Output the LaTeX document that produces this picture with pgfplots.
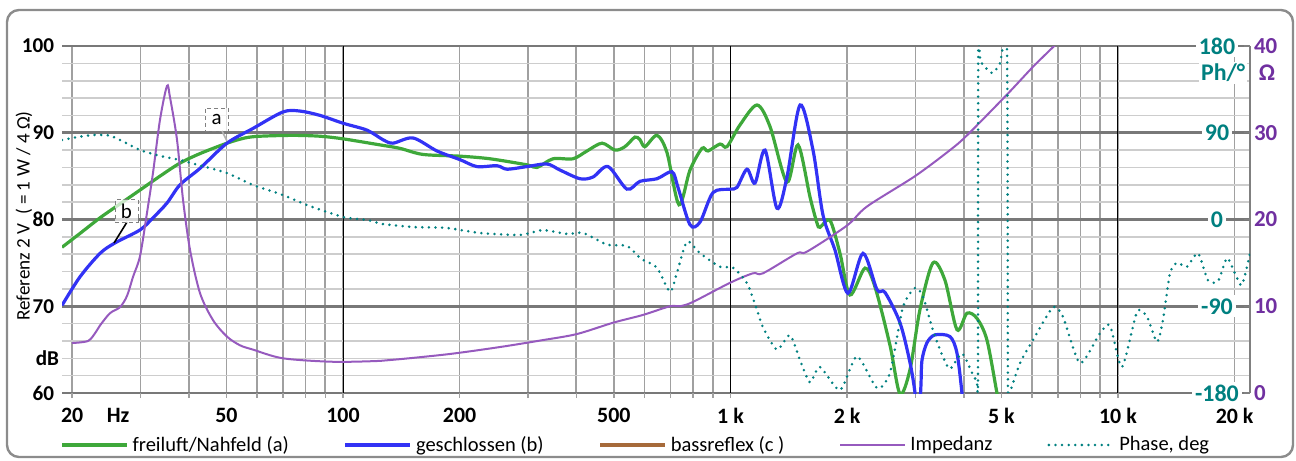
\documentclass[border=0pt]{standalone}
\usepackage{fontspec}
\setmainfont{Carlito}
\usepackage{pgfplots}
\usepackage{pgfplotstable}
\pgfplotsset{compat=1.18}

\definecolor{cgreen}{RGB}{62,168,58}
\definecolor{cblue}{RGB}{50,50,245}
\definecolor{cbrown}{RGB}{166,106,58}
\definecolor{cpurple}{RGB}{150,90,190}
\definecolor{cteal}{RGB}{0,128,128}
\definecolor{zlabel}{RGB}{112,48,160}
\definecolor{gridv}{RGB}{160,160,160}
\definecolor{gridmaj}{RGB}{120,120,120}
\definecolor{gridmin}{RGB}{205,205,205}
\definecolor{framegray}{RGB}{140,140,140}

% freiluft / Nahfeld (a)
\pgfplotstableread{
f db
18.83 76.8
20.96 78.4
23.61 80.2
26.58 81.8
29.94 83.4
33.71 85.0
37.96 86.5
42.76 87.6
50.19 88.8
55.86 89.4
61.07 89.6
74.30 89.7
87.23 89.6
100 89.3
124.6 88.6
140.3 88.2
160.9 87.5
200.4 87.3
239.5 87.0
298.5 86.3
316.7 86.0
348.3 87.0
392.3 87.0
426.3 87.9
466.1 88.8
503.6 88.0
534.2 88.4
566.9 89.5
584.0 89.2
601.7 88.4
646.2 89.7
685.8 87.7
736.5 81.7
786.2 85.7
844.2 88.2
874.9 87.9
939.6 88.7
979.4 88.4
1058 90.9
1171 93.2
1265 90.7
1399 84.3
1494 88.6
1604 82.6
1672 79.6
1702 79.1
1806 79.9
1917 76.1
2034 71.3
2224 74.4
2361 72.2
2580 65.5
2738 59.9
2906 62.7
3083 69.6
3331 75.0
3577 73.0
3842 67.3
4077 69.2
4327 68.6
4591 66.1
4872 60.0
5019 57
}\freiluft

% geschlossen (b)
\pgfplotstableread{
f db
18.83 70.1
20.96 73.4
23.61 76.1
25.80 77.3
29.94 78.8
32.34 80.2
35.14 81.9
37.96 84.0
42.76 85.9
50.19 88.8
58.59 90.5
70.0 92.4
77.46 92.5
87.23 92.0
100 91.1
115.33 90.3
126.8 89.2
134.6 88.8
151.6 89.4
174.8 87.9
200.4 86.9
221.7 86.1
249.7 86.2
265.0 85.8
298.5 86.1
336.1 86.4
363.1 85.7
408.9 84.7
441.8 84.9
483.0 86.1
540.6 83.5
584.0 84.4
646.2 84.7
706.5 85.5
732.1 83.7
786.2 79.4
834.3 79.7
901.3 83.1
997.0 83.5
1039 83.7
1103 85.8
1157 84.2
1228 88.0
1318 81.3
1399 84.9
1512 93.2
1633 88.0
1733 80.5
1860 76.5
2010 71.5
2198 76.1
2389 71.9
2504 71.6
2738 68.1
2906 63.5
2994 60
3029 57
3083 59
3102 61
3121 63.8
3215 65.8
3371 66.7
3686 66.5
3842 64.6
3958 60
4029 56
}\geschlossen

% Impedanz (Ohm)
\pgfplotstableread{
f z
19.98 5.76
21.98 6.0
23.0 7.0
23.61 7.8
25.04 9.2
26.58 9.9
27.71 11.2
28.72 13.4
29.94 15.8
31.21 20.8
32.34 25.4
33.71 31.5
35.14 35.4
35.77 34.1
37.29 29.2
38.65 22.3
40.29 16.5
42.76 11.5
46.19 8.4
50.19 6.5
54.22 5.5
58.59 5.0
70.0 4.0
94.23 3.6
124.6 3.7
140.3 3.9
188.9 4.5
254.2 5.3
328.2 6.1
401.7 6.8
497.6 8.1
594.6 9.0
698.1 10.0
740.9 10.0
800.3 10.5
997.0 12.7
1143 13.8
1213 13.8
1485 16.1
1576 16.3
1998 19.3
2251 21.5
2994 25.0
3686 28.0
4077 29.7
5170 34.4
6035 37.6
6879 40.1
7000 40.5
}\impedanz

% Phase (deg)
\pgfplotstableread{
f ph
18.83 82.5
20.96 86
22.91 87.7
25.04 87
27.38 80
29.94 72
33.71 66
37.96 61.7
42.76 56
50.19 48.2
58.59 35.8
70.0 25.4
80.74 15
100 2.6
115.33 -0.5
126.8 -4.7
151.6 -7.8
185.5 -8.8
225.7 -14
286.3 -16
328.2 -11
378.5 -15
416.3 -14
480.1 -26
540.6 -27.5
584.0 -40
594.6 -42
646.2 -50
698.1 -75
727.8 -55
772.3 -23
834.3 -35
939.6 -49
1015 -50
1103 -66
1171 -94
1213 -112
1318 -135
1424 -120
1512 -146
1604 -169
1702 -153
1917 -177
2121 -142
2389 -175
2580 -159
2787 -91
2994 -71
3139 -80
3331 -115
3514 -140
3686 -155
3958 -139
4200 -159
4327 -169
4352 -178
4360 178
4420 164
4730 152
4960 162
5170 179
5201 -179
5263 -179
5586 -149
6035 -125
6797 -91
7213 -101
7979 -149
8985 -118
9536 -110
10240 -153
11196 -96
11883 -101
12610 -127
13067 -104
13620 -56
14200 -45
15070 -49
16088 -35
17073 -63
18118 -64
19112 -40
20040 -56
20893 -68
21916 -35
}\phase

\begin{document}
\begin{tikzpicture}
\begin{axis}[
  scale only axis, width=594bp, height=173.5bp,
  xmode=log, xmin=18.83, xmax=21916,
  ymin=60, ymax=100,
  clip mode=individual,
  axis line style={draw=none},
  ytick style={draw=none},
  xtick style={draw=gridv, line width=0.75bp},
  xtick pos=lower, tick align=outside,
  major tick length=2.5bp, minor tick length=2.5bp,
  xtick={20,50,100,200,500,1000,2000,5000,10000,20000},
  xticklabels={20,50,100,200,500,1 k,2 k,5 k,10 k,20 k},
  minor xtick={30,40,60,70,80,90,300,400,600,700,800,900,3000,4000,6000,7000,8000,9000},
  ytick={60,70,80,90,100},
  yticklabels={60,70,80,90,100},
  minor ytick={62,64,66,68,72,74,76,78,82,84,86,88,92,94,96,98},
  grid=both,
  major x grid style={color=gridv, line width=0.8bp},
  minor x grid style={color=gridv, line width=0.8bp},
  major y grid style={color=gridmaj, line width=1.3bp},
  minor y grid style={color=gridmin, line width=0.8bp},
  xticklabel style={font=\bfseries\fontsize{11}{12}\selectfont, yshift=-1.5bp},
  yticklabel style={font=\bfseries\fontsize{10.6}{12}\selectfont, xshift=2bp},
  legend columns=5,
  legend style={draw=none, fill=none, at={(-0.0067,-0.1499)}, anchor=west,
    font=\fontsize{10.3}{12}\selectfont,
    /tikz/every even column/.append style={column sep=25.5bp}},
  legend image code/.code={\draw[#1] (0bp,0bp) -- (32.5bp,0bp);},
]
\draw[black, line width=0.5bp] (axis cs:100,60) -- (axis cs:100,100);
\draw[black, line width=0.5bp] (axis cs:1000,60) -- (axis cs:1000,100);
\draw[black, line width=0.5bp] (axis cs:10000,60) -- (axis cs:10000,100);

\addplot[cgreen, line width=1.6bp, smooth, tension=0.5] table[x=f, y=db] {\freiluft};
\addlegendentry{freiluft/Nahfeld (a)}
\addplot[cblue, line width=1.6bp, smooth, tension=0.5] table[x=f, y=db] {\geschlossen};
\addlegendentry{geschlossen (b)}
\addlegendimage{cbrown, line width=1.6bp}
\addlegendentry{bassreflex (c )}
\addlegendimage{cpurple, line width=1bp}
\addlegendentry{Impedanz}
\addlegendimage{cteal, line width=1.4bp, line cap=round, dash pattern=on 0pt off 3.3bp}
\addlegendentry{Phase, deg}

\node[draw=gray, dash pattern=on 2bp off 1.5bp, fill=white, fill opacity=0.7, text opacity=1,
  minimum size=11.5bp, inner sep=0pt, font=\fontsize{10.5}{12}\selectfont]
  at (axis cs:47.17,91.53) {a};
\draw[gray!60, line width=0.8bp] (axis cs:48.73,90.2) -- (axis cs:50.19,89.05);
\draw[black, line width=0.8bp] (axis cs:27.71,79.71) -- (axis cs:25.65,77.29);
\node[draw=gray, dash pattern=on 2bp off 1.5bp, fill=white, fill opacity=0.7, text opacity=1,
  minimum size=11.5bp, inner sep=0pt, font=\fontsize{10.5}{12}\selectfont]
  at (axis cs:27.62,80.98) {b};

\node[anchor=east, xshift=2bp, inner sep=0.333em, font=\bfseries\fontsize{10.6}{12}\selectfont]
  at (axis cs:18.83,64) {dB};
\node[anchor=north, yshift=-1.5bp, yshift=-2.5bp, font=\bfseries\fontsize{11}{12}\selectfont]
  at (axis cs:26.27,60) {Hz};
\node[rotate=90, font=\fontsize{9.6}{11}\selectfont]
  at ([xshift=-19bp]rel axis cs:0,0.51) {Referenz 2 V\ \ ( = 1 W / 4 Ω)};
\end{axis}

\begin{axis}[
  scale only axis, width=594bp, height=173.5bp,
  xmode=log, xmin=18.83, xmax=21916,
  ymin=0, ymax=40,
  clip mode=individual,
  hide x axis,
  axis y line*=right,
  y axis line style={-, draw=gray, line width=0.6bp},
  ytick={0,10,20,30,40},
  yticklabels={0,10,20,30,40},
  ytick style={draw=gray, line width=0.6bp},
  major tick length=3bp, tick align=inside,
  yticklabel style={font=\bfseries\fontsize{11.5}{12}\selectfont, text=zlabel, xshift=-1.5bp},
]
\addplot[cpurple, line width=1bp, smooth, tension=0.5] table[x=f, y=z] {\impedanz};
\node[font=\bfseries\fontsize{12}{12}\selectfont, text=zlabel]
  at (rel axis cs:1.0143,0.9222) {Ω};
\end{axis}

\begin{axis}[
  scale only axis, width=594bp, height=173.5bp,
  xmode=log, xmin=18.83, xmax=21916,
  ymin=-180, ymax=180,
  clip mode=individual,
  hide x axis,
  axis y line*=right,
  y axis line style={draw=none},
  ytick={-180,-90,0,90,180},
  yticklabels={-180,-90,0,90,180},
  ytick style={draw=none},
  yticklabel style={font=\bfseries\fontsize{12}{12}\selectfont, text=cteal,
    fill=white, inner sep=1.5bp, anchor=center, xshift=-16.5bp},
]
\addplot[cteal, line width=1.4bp, line cap=round, dash pattern=on 0pt off 3.3bp, smooth, tension=0.4]
  table[x=f, y=ph] {\phase};
\node[font=\bfseries\fontsize{12}{12}\selectfont, text=cteal, fill=white, inner sep=1bp]
  at (rel axis cs:0.9773,0.9222) {Ph/°};
\end{axis}

\pgfresetboundingbox
\path (-31bp,-34bp) rectangle (617bp,196.5bp);
\draw[framegray, line width=1.2bp, rounded corners=6bp] (-27.5bp,-32bp) rectangle (615.5bp,191.5bp);
\end{tikzpicture}
\end{document}
